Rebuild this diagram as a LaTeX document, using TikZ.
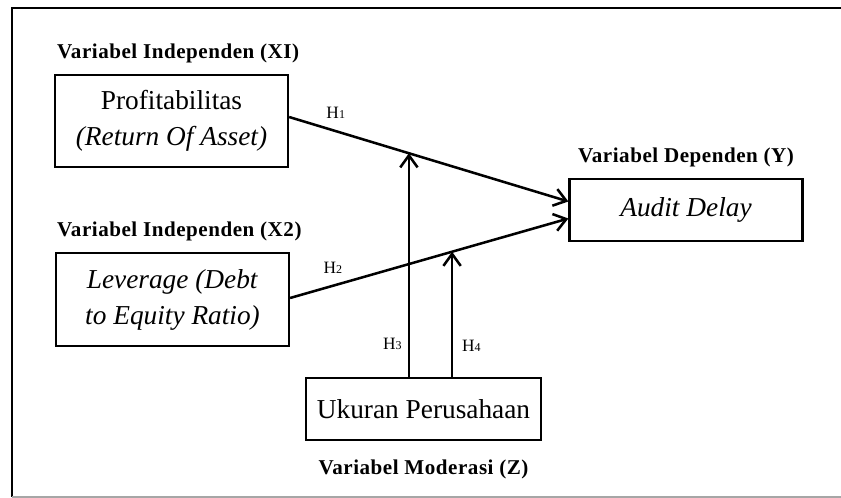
\documentclass[tikz,border=0pt]{standalone}
\usepackage{fontspec}
\setmainfont{Liberation Serif}
\newfontfamily\labelfont[LetterSpace=2.5]{Liberation Serif}
\usetikzlibrary{arrows.meta, positioning, calc}

\begin{document}
\begin{tikzpicture}[x=0.75pt, y=-0.75pt,
    box/.style={draw, line width=1.9pt, minimum width=174.5pt, align=center, inner sep=0pt, font=\fontsize{20.5}{27}\selectfont},
    varlabel/.style={inner sep=0pt, font=\labelfont\fontsize{15.8}{18}\selectfont\bfseries},
    hyp/.style={inner sep=0pt, font=\fontsize{13}{15}\selectfont},
    link/.style={line width=1.9pt, -{Straight Barb[length=9pt, width=13pt]}}]
    \useasboundingbox (0,0) rectangle (841,498);
    % frame
    \draw[line width=2.2pt] (12,497) -- (12,8) -- (845,8);
    \draw[gray!70, line width=1pt] (12,497) -- (841,497);

    \node[box, minimum height=69pt] (prof) at (171.5,121) {Profitabilitas\\\textit{(Return Of Asset)}};
    \node[box, minimum height=69.75pt] (lev) at (172.5,299.5) {\textit{Leverage (Debt}\\\textit{to Equity Ratio)}};
    \node[box, minimum height=46.5pt] (audit) at (686,210) {\textit{Audit Delay}};
    \node[box, minimum width=176pt, minimum height=46.5pt] (size) at (423.5,409) {Ukuran Perusahaan};

    \node[varlabel] (lx1) [above=7.5pt of prof.north west, anchor=south west, xshift=2.25pt] {Variabel Independen (XI)};
    \node[varlabel] (lx2) [above=7.5pt of lev.north west, anchor=south west, xshift=1.5pt] {Variabel Independen (X2)};
    \node[varlabel] (ly) [above=7.5pt of audit] {Variabel Dependen (Y)};
    \node[varlabel] (lz) [below=14pt of size] {Variabel Moderasi (Z)};

    \coordinate (out1) at ($(prof.east)+(0,-4)$);
    \coordinate (out2) at ($(lev.east)+(0,-1.5)$);
    \coordinate (in1) at ($(audit.west)+(0,-8.5)$);
    \coordinate (in2) at ($(audit.west)+(0,8.5)$);
    \coordinate (m1) at ($(out1)!0.429!(in1)$);
    \coordinate (m2) at ($(out2)!0.582!(in2)$);

    \path[link] (out1) edge node[hyp, pos=0.167, above=8.5pt] (h1) {H{\fontsize{9}{10}\selectfont 1}} (in1);
    \path[link] (out2) edge node[hyp, pos=0.154, above=8.5pt] (h2) {H{\fontsize{9}{10}\selectfont 2}} (in2);
    \path[link] (size.north -| m1) edge node[hyp, pos=0.145, left=4.5pt] (h3) {H{\fontsize{9}{10}\selectfont 3}} (m1);
    \path[link] (size.north -| m2) edge node[hyp, pos=0.244, right=6.5pt] (h4) {H{\fontsize{9}{10}\selectfont 4}} (m2);
\end{tikzpicture}
\end{document}
